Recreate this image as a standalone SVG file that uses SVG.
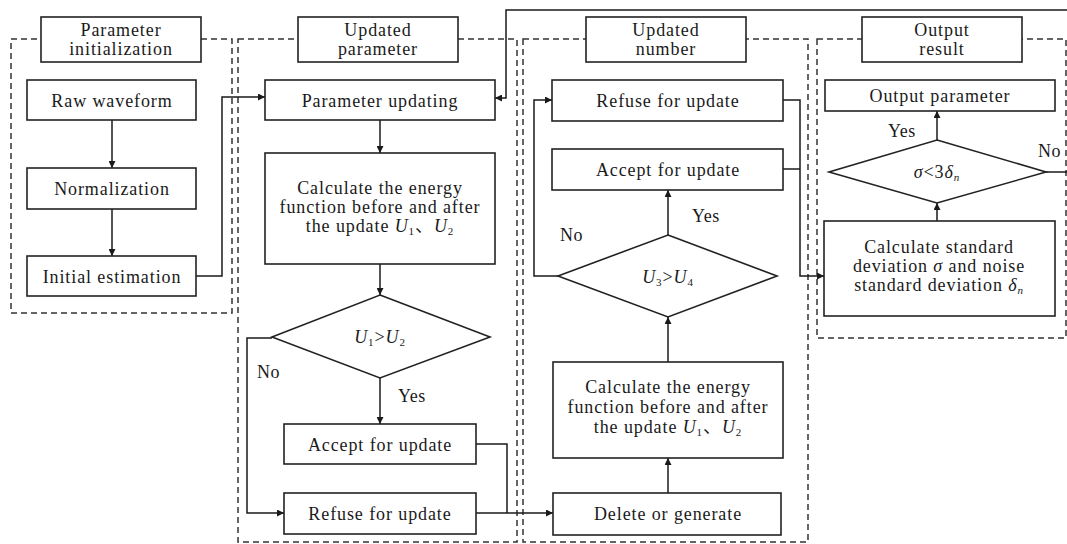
<svg xmlns="http://www.w3.org/2000/svg" width="1067" height="544" viewBox="0 0 1067 544">
<defs>
<marker id="ah" viewBox="0 0 10 10" refX="10" refY="5" markerWidth="8" markerHeight="7" markerUnits="userSpaceOnUse" orient="auto">
<path d="M0,0 L10,5 L0,10 z" fill="#1a1a1a"/>
</marker>
<style>
.grp{fill:none;stroke:#333;stroke-width:1.5;stroke-dasharray:6,4}
.box{fill:#fff;stroke:#222;stroke-width:1.6}
.t{font-family:"Liberation Serif","Noto Sans CJK SC",serif;font-size:18px;fill:#1a1a1a;text-anchor:middle;letter-spacing:0.9px}
.lbl{font-family:"Liberation Serif",serif;font-size:18px;fill:#1a1a1a;letter-spacing:0.5px}
.c{fill:none;stroke:#1a1a1a;stroke-width:1.5}
.i{font-style:italic}
.s{font-size:11px}
</style>
</defs>
<rect width="1067" height="544" fill="#fff"/>

<g id="group-init">
<rect class="grp" x="11" y="39" width="221" height="274"/>
<rect class="box" x="41" y="17" width="160" height="45"/>
<text class="t" x="121" y="36">Parameter</text>
<text class="t" x="121" y="55">initialization</text>
</g>
<g id="group-updated-parameter">
<rect class="grp" x="238" y="39" width="279" height="503"/>
<rect class="box" x="298" y="17" width="160" height="45"/>
<text class="t" x="378" y="36">Updated</text>
<text class="t" x="378" y="55">parameter</text>
</g>
<g id="group-updated-number">
<rect class="grp" x="523" y="39" width="285" height="503"/>
<rect class="box" x="586" y="17" width="160" height="45"/>
<text class="t" x="666" y="36">Updated</text>
<text class="t" x="666" y="55">number</text>
</g>
<g id="group-output">
<rect class="grp" x="817" y="39" width="249" height="299"/>
<rect class="box" x="862" y="17" width="160" height="45"/>
<text class="t" x="942" y="36">Output</text>
<text class="t" x="942" y="55">result</text>
</g>

<g id="connectors">
<line class="c" x1="112" y1="120" x2="112" y2="168" marker-end="url(#ah)"/>
<line class="c" x1="112" y1="209" x2="112" y2="256" marker-end="url(#ah)"/>
<polyline class="c" points="196,276 222,276 222,97 265,97" marker-end="url(#ah)"/>
<line class="c" x1="380" y1="120" x2="380" y2="153" marker-end="url(#ah)"/>
<line class="c" x1="380" y1="264" x2="380" y2="295" marker-end="url(#ah)"/>
<line class="c" x1="380" y1="378" x2="380" y2="424" marker-end="url(#ah)"/>
<polyline class="c" points="272,338 247,338 247,513 284,513" marker-end="url(#ah)"/>
<polyline class="c" points="476,444 507,444 507,513"/>
<line class="c" x1="476" y1="513" x2="553" y2="513" marker-end="url(#ah)"/>
<line class="c" x1="668" y1="493" x2="668" y2="458" marker-end="url(#ah)"/>
<line class="c" x1="668" y1="362" x2="668" y2="317" marker-end="url(#ah)"/>
<line class="c" x1="668" y1="235" x2="668" y2="190" marker-end="url(#ah)"/>
<polyline class="c" points="558,276 534,276 534,100 552,100" marker-end="url(#ah)"/>
<polyline class="c" points="783,100 800,100 800,276 824,276" marker-end="url(#ah)"/>
<line class="c" x1="783" y1="169" x2="800" y2="169"/>
<line class="c" x1="937" y1="221" x2="937" y2="203" marker-end="url(#ah)"/>
<line class="c" x1="937" y1="140" x2="937" y2="111" marker-end="url(#ah)"/>
<polyline class="c" points="1046,172 1067,172"/>
<polyline class="c" points="1067,10 506,10 506,98 495,98" marker-end="url(#ah)"/>
<text class="lbl" x="257" y="378">No</text>
<text class="lbl" x="398" y="402">Yes</text>
<text class="lbl" x="560" y="241">No</text>
<text class="lbl" x="692" y="222">Yes</text>
<text class="lbl" x="888" y="137">Yes</text>
<text class="lbl" x="1038" y="157">No</text>
</g>

<g id="raw-waveform">
<rect class="box" x="27" y="80" width="169" height="40"/>
<text class="t" x="112" y="107">Raw waveform</text>
</g>
<g id="normalization">
<rect class="box" x="27" y="168" width="169" height="41"/>
<text class="t" x="112" y="195">Normalization</text>
</g>
<g id="initial-estimation">
<rect class="box" x="27" y="256" width="169" height="40"/>
<text class="t" x="112" y="283">Initial estimation</text>
</g>

<g id="parameter-updating">
<rect class="box" x="265" y="80" width="230" height="40"/>
<text class="t" x="380" y="107">Parameter updating</text>
</g>
<g id="calc-energy-1">
<rect class="box" x="265" y="153" width="230" height="111"/>
<text class="t" x="380" y="194">Calculate the energy</text>
<text class="t" x="380" y="213">function before and after</text>
<text class="t" x="380" y="232">the update <tspan class="i">U</tspan><tspan class="s" dy="3">1</tspan><tspan dy="-3">、</tspan><tspan class="i">U</tspan><tspan class="s" dy="3">2</tspan></text>
</g>
<g id="decision-u1-u2">
<polygon class="box" points="380,295 490,337 380,378 272,337"/>
<text class="t" x="380" y="343"><tspan class="i">U</tspan><tspan class="s" dy="3">1</tspan><tspan dy="-3">&gt;</tspan><tspan class="i">U</tspan><tspan class="s" dy="3">2</tspan></text>
</g>
<g id="accept-1">
<rect class="box" x="284" y="424" width="192" height="40"/>
<text class="t" x="380" y="451">Accept for update</text>
</g>
<g id="refuse-1">
<rect class="box" x="284" y="493" width="192" height="41"/>
<text class="t" x="380" y="520">Refuse for update</text>
</g>

<g id="refuse-2">
<rect class="box" x="552" y="80" width="231" height="41"/>
<text class="t" x="668" y="107">Refuse for update</text>
</g>
<g id="accept-2">
<rect class="box" x="552" y="149" width="231" height="41"/>
<text class="t" x="668" y="176">Accept for update</text>
</g>
<g id="decision-u3-u4">
<polygon class="box" points="668,235 777,276 668,317 558,276"/>
<text class="t" x="668" y="283"><tspan class="i">U</tspan><tspan class="s" dy="3">3</tspan><tspan dy="-3">&gt;</tspan><tspan class="i">U</tspan><tspan class="s" dy="3">4</tspan></text>
</g>
<g id="calc-energy-2">
<rect class="box" x="553" y="362" width="230" height="96"/>
<text class="t" x="668" y="393">Calculate the energy</text>
<text class="t" x="668" y="413">function before and after</text>
<text class="t" x="668" y="433">the update <tspan class="i">U</tspan><tspan class="s" dy="3">1</tspan><tspan dy="-3">、</tspan><tspan class="i">U</tspan><tspan class="s" dy="3">2</tspan></text>
</g>
<g id="delete-generate">
<rect class="box" x="553" y="493" width="228" height="42"/>
<text class="t" x="668" y="520">Delete or generate</text>
</g>

<g id="output-parameter">
<rect class="box" x="825" y="80" width="230" height="31"/>
<text class="t" x="940" y="102">Output parameter</text>
</g>
<g id="decision-sigma">
<polygon class="box" points="937,140 1046,172 937,203 829,172"/>
<text class="t" x="937" y="178"><tspan class="i">σ</tspan>&lt;3<tspan class="i">δ</tspan><tspan class="s i" dy="3">n</tspan></text>
</g>
<g id="calc-std">
<rect class="box" x="824" y="221" width="231" height="95"/>
<text class="t" x="939" y="253">Calculate standard</text>
<text class="t" x="939" y="272">deviation <tspan class="i">σ</tspan> and noise</text>
<text class="t" x="939" y="291">standard deviation <tspan class="i">δ</tspan><tspan class="s i" dy="3">n</tspan></text>
</g>
</svg>
